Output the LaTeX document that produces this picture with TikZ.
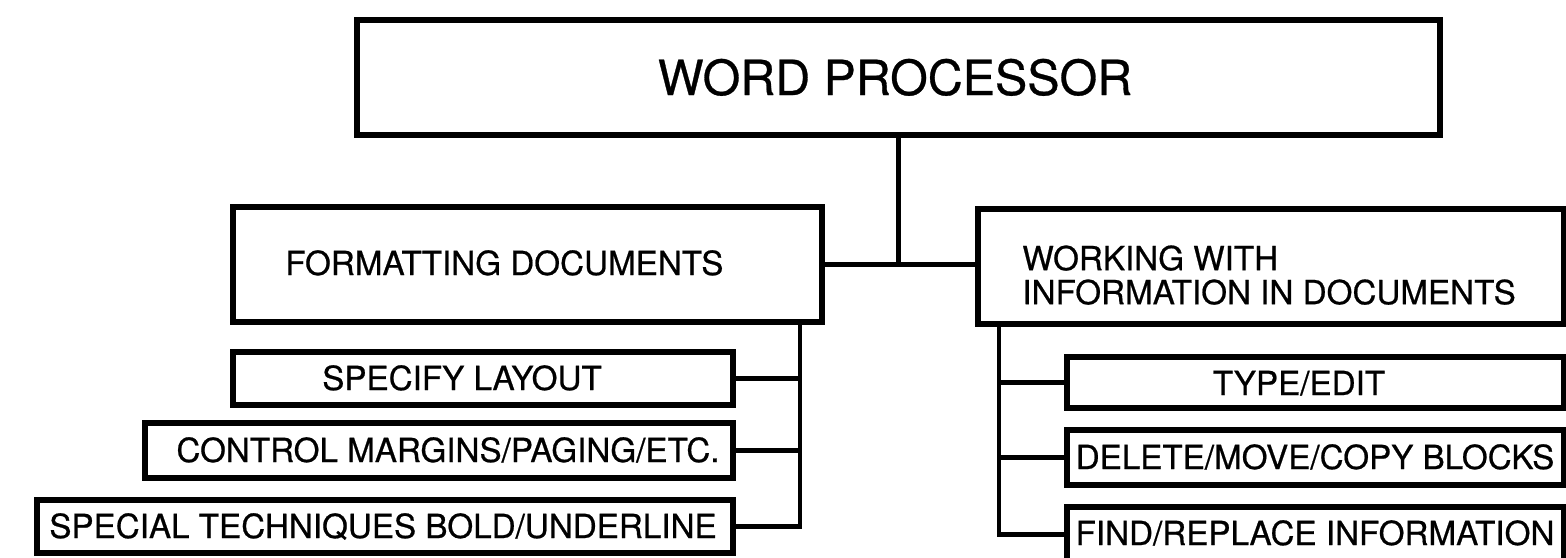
\documentclass[tikz,border=0pt]{standalone}
\usepackage{fontspec}
\setmainfont{TeX Gyre Heros}[FakeBold=0.6]
\usetikzlibrary{fit}
\begin{document}
\begin{tikzpicture}[x=0.5pt,y=-0.5pt,
  box/.style={draw, line width=2.6pt, inner sep=0pt, outer sep=0pt},
  link/.style={line width=2.1pt},
  lbl/.style={inner sep=0pt, font=\fontsize{16.6}{17}\selectfont},
  ttl/.style={inner sep=0pt, font=\fontsize{24.2}{28}\selectfont}]
\useasboundingbox (0,0) rectangle (1566,557);

% boxes
\node[box, fit={(357,20)(1440,135)}] (top) {};
\node[box, fit={(233,207)(822,322)}] (fmt) {};
\node[box, fit={(978,209)(1564,324)}] (work) {};
\node[box, fit={(233,352)(733,405)}] (specify) {};
\node[box, fit={(145,423)(733,478)}] (control) {};
\node[box, fit={(37,500)(733,553)}] (special) {};
\node[box, fit={(1067,357)(1564,408)}] (type) {};
\node[box, fit={(1067,430)(1564,485)}] (delete) {};
\node[box, fit={(1067,507)(1564,562)}] (find) {};

% labels
\node[ttl, anchor=base] (ttop) at (895,95) {WORD PROCESSOR};
\node[lbl, anchor=base west] (tfmt) at (285,275) {FORMATTING DOCUMENTS};
\node[lbl, anchor=north west, align=left] (twork) at (1022,245) {WORKING WITH\\INFORMATION IN DOCUMENTS};
\node[lbl, anchor=base] (tspecify) at (462,390) {SPECIFY LAYOUT};
\node[lbl, anchor=base] (tcontrol) at (448,462) {CONTROL MARGINS/PAGING/ETC.};
\node[lbl, anchor=base] (tspecial) at (383,538) {SPECIAL TECHNIQUES BOLD/UNDERLINE};
\node[lbl, anchor=base] (ttype) at (1299,395) {TYPE/EDIT};
\node[lbl, anchor=base] (tdelete) at (1315,469) {DELETE/MOVE/COPY BLOCKS};
\node[lbl, anchor=base] (tfind) at (1315,545) {FIND/REPLACE INFORMATION};

% connectors
\coordinate (ls) at (800,0);
\coordinate (rs) at (999,0);
\draw[link] (top.south) -- (top.south |- fmt.east);
\draw[link] (fmt.east) -- (work.west |- fmt.east);
\draw[link] (fmt.south -| ls) |- (special.east);
\draw[link] (specify.east) -- (specify.east -| ls);
\draw[link] (control.east) -- (control.east -| ls);
\draw[link] (work.south -| rs) |- (find.west);
\draw[link] (type.west) -- (type.west -| rs);
\draw[link] (delete.west) -- (delete.west -| rs);
\end{tikzpicture}
\end{document}
